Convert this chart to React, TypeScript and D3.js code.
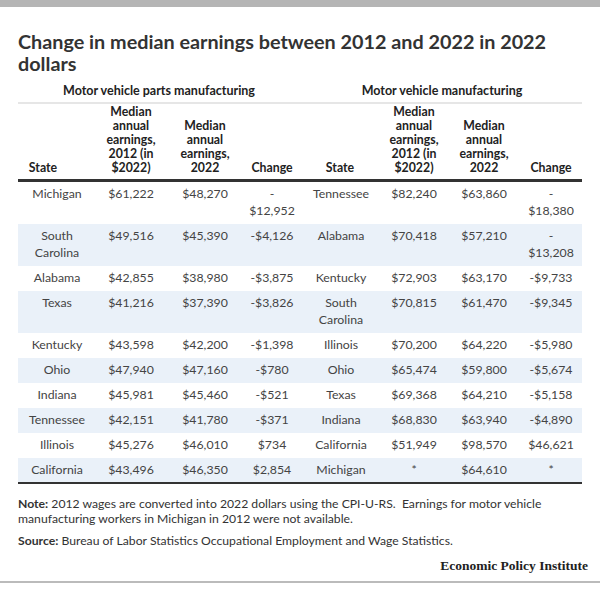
import React from "react";
import * as d3 from "d3";

const title = ["Change in median earnings between 2012 and 2022 in 2022", "dollars"];
const groupTitles = ["Motor vehicle parts manufacturing", "Motor vehicle manufacturing"];
const columnHeaders = ["State", "Median annual earnings, 2012 (in $2022)", "Median annual earnings, 2022", "Change"];

const partsStates = ["Michigan", "South Carolina", "Alabama", "Texas", "Kentucky", "Ohio", "Indiana", "Tennessee", "Illinois", "California"];
const parts2012: (number | null)[] = [61222, 49516, 42855, 41216, 43598, 47940, 45981, 42151, 45276, 43496];
const parts2022: (number | null)[] = [48270, 45390, 38980, 37390, 42200, 47160, 45460, 41780, 46010, 46350];
const partsChange: (number | null)[] = [-12952, -4126, -3875, -3826, -1398, -780, -521, -371, 734, 2854];

const vehStates = ["Tennessee", "Alabama", "Kentucky", "South Carolina", "Illinois", "Ohio", "Texas", "Indiana", "California", "Michigan"];
const veh2012: (number | null)[] = [82240, 70418, 72903, 70815, 70200, 65474, 69368, 68830, 51949, null];
const veh2022: (number | null)[] = [63860, 57210, 63170, 61470, 64220, 59800, 64210, 63940, 98570, 64610];
const vehChange: (number | null)[] = [-18380, -13208, -9733, -9345, -5980, -5674, -5158, -4890, 46621, null];

const noteLines = [
  "2012 wages are converted into 2022 dollars using the CPI-U-RS.\u00a0 Earnings for motor vehicle",
  "manufacturing workers in Michigan in 2012 were not available.",
];
const sourceText = "Bureau of Labor Statistics Occupational Employment and Wage Statistics.";
const credit = "Economic Policy Institute";

const FONT = "Lato, 'Open Sans', sans-serif";
const W = 600;
const H = 605;

const fmtNum = d3.format(",");
const fmtMoney = (v: number | null) => (v == null ? "*" : (v < 0 ? "-" : "") + "$" + fmtNum(Math.abs(v)));

let ctx: CanvasRenderingContext2D | null = null;
function measure(text: string, font: string) {
  if (!ctx) ctx = document.createElement("canvas").getContext("2d");
  if (!ctx) return text.length * 6.5;
  ctx.font = font;
  return ctx.measureText(text).width;
}

function wrap(text: string, maxW: number, font: string): string[] {
  const tokens: string[] = [];
  let cur = "";
  for (const ch of text) {
    cur += ch;
    if (ch === " " || ch === "-") {
      tokens.push(cur);
      cur = "";
    }
  }
  if (cur) tokens.push(cur);
  const lines: string[] = [];
  let line = "";
  for (const t of tokens) {
    const cand = line + t;
    if (line && measure(cand.trimEnd(), font) > maxW) {
      lines.push(line.trimEnd());
      line = t;
    } else line = cand;
  }
  if (line) lines.push(line.trimEnd());
  return lines;
}

const bodyFont = `12.3px ${FONT}`;
const headFont = `bold 12.3px ${FONT}`;

const tables = [
  {
    group: groupTitles[0],
    groupX: 159,
    stateHeaderX: 43,
    x0: 18,
    x1: 300,
    centers: [57, 131, 205, 272],
    maxW: [62, 58, 58, 47],
    cols: [partsStates, parts2012.map(fmtMoney), parts2022.map(fmtMoney), partsChange.map(fmtMoney)],
  },
  {
    group: groupTitles[1],
    groupX: 442,
    stateHeaderX: 340,
    x0: 300,
    x1: 582,
    centers: [341, 414, 484, 551],
    maxW: [66, 58, 58, 47],
    cols: [vehStates, veh2012.map(fmtMoney), veh2022.map(fmtMoney), vehChange.map(fmtMoney)],
  },
];

export default function App() {
  const nRows = partsStates.length;
  const wrapped = tables.map((t) => t.cols.map((col, ci) => col.map((s) => wrap(s, t.maxW[ci], bodyFont))));
  const rowLines = d3.range(nRows).map((r) =>
    d3.max(wrapped, (tw) => d3.max(tw, (col) => col[r].length) as number) as number
  );
  const LH = 17;
  const rowH = rowLines.map((n) => 25 + LH * (n - 1));
  const tableTop = 182;
  const rowTop: number[] = [];
  rowH.reduce((acc, h, i) => {
    rowTop[i] = acc;
    return acc + h;
  }, tableTop);
  const tableBottom = tableTop + (d3.sum(rowH) as number);

  const headerBase = 172;
  const headerLH = 14;

  return (
    <svg width={W} height={H} style={{ position: "absolute", left: 0, top: 0, background: "#fff" }} fontFamily={FONT}>
      <rect x={0} y={0} width={W} height={7} fill="#b5b5b5" />
      {title.map((t, i) => (
        <text key={i} x={18} y={49 + i * 22} fontSize={19.8} fontWeight="bold" fill="#333">
          {t}
        </text>
      ))}
      {tables.map((t, ti) => (
        <g key={ti}>
          <text x={t.groupX} y={95} textAnchor="middle" fontSize={12.5} fontWeight="bold" fill="#222">
            {t.group}
          </text>
          {rowTop.map((y, r) =>
            r % 2 === 1 ? <rect key={r} x={t.x0} y={y} width={t.x1 - t.x0} height={rowH[r]} fill="#eaf1f9" /> : null
          )}
          {columnHeaders.map((h, ci) => {
            const lines = ci === 0 ? [h] : wrap(h, 57, headFont);
            const x = ci === 0 ? t.stateHeaderX : t.centers[ci];
            return lines.map((ln, li) => (
              <text
                key={ci + "-" + li}
                x={x}
                y={headerBase - (lines.length - 1 - li) * headerLH}
                textAnchor="middle"
                fontSize={12.3}
                fontWeight="bold"
                fill="#222"
              >
                {ln}
              </text>
            ));
          })}
          {wrapped[ti].map((col, ci) =>
            col.map((lines, r) =>
              lines.map((ln, li) => (
                <text
                  key={ci + "-" + r + "-" + li}
                  x={t.centers[ci]}
                  y={rowTop[r] + 16 + li * LH}
                  textAnchor="middle"
                  fontSize={12.3}
                  fill="#444"
                >
                  {ln}
                </text>
              ))
            )
          )}
        </g>
      ))}
      <rect x={18} y={102} width={564} height={2} fill="#e6e6e6" />
      <rect x={18} y={179} width={564} height={3} fill="#333" />
      <rect x={18} y={tableBottom - 1} width={564} height={2} fill="#333" />
      <text x={18} y={tableBottom + 25} fontSize={12.2} fill="#333">
        <tspan fontWeight="bold">Note:</tspan> {noteLines[0]}
      </text>
      <text x={18} y={tableBottom + 40} fontSize={12.2} fill="#333">
        {noteLines[1]}
      </text>
      <text x={18} y={tableBottom + 62} fontSize={12.2} fill="#333">
        <tspan fontWeight="bold">Source:</tspan> {sourceText}
      </text>
      <text x={588} y={570} textAnchor="end" fontSize={13.5} fontWeight="bold" fill="#222" fontFamily="'Liberation Serif', serif">
        {credit}
      </text>
      <rect x={0} y={581} width={W} height={2} fill="#bbb" />
    </svg>
  );
}
